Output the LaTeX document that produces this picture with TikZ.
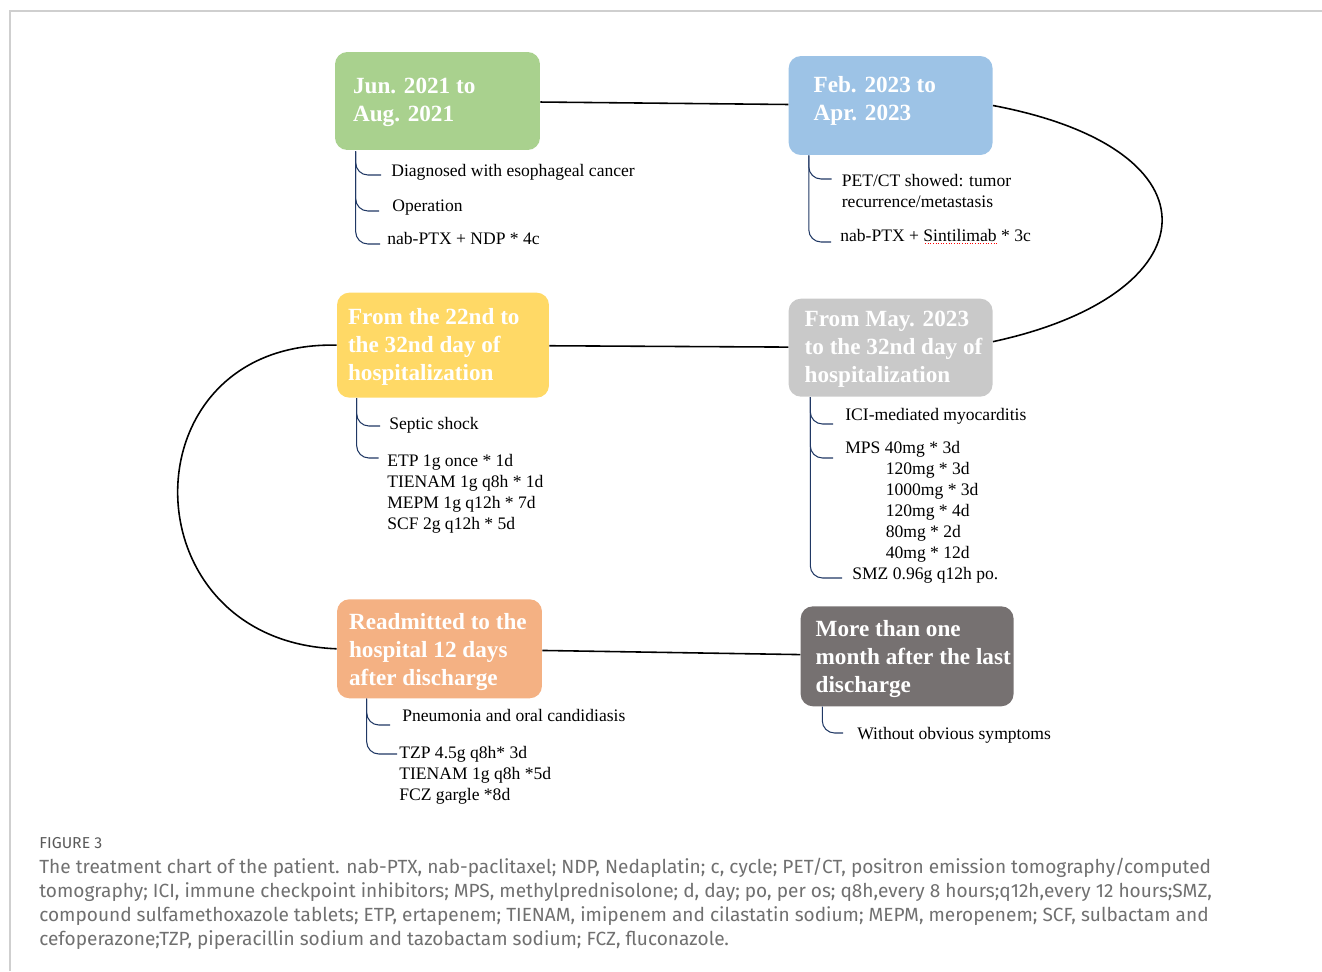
\documentclass[tikz,border=0pt]{standalone}
\usepackage{fontspec}
\setmainfont{Liberation Serif}
\newfontfamily\capfont{Fira Sans}
\usepackage{tikz}
\usetikzlibrary{positioning, calc}

\definecolor{boxgreen}{HTML}{A9D18E}
\definecolor{boxblue}{HTML}{9DC3E6}
\definecolor{boxyellow}{HTML}{FFD966}
\definecolor{boxgray}{HTML}{C9C9C9}
\definecolor{boxsalmon}{HTML}{F4B183}
\definecolor{boxdark}{HTML}{767171}
\definecolor{bracenavy}{HTML}{203864}
\definecolor{capgray}{HTML}{707070}
\definecolor{figgray}{HTML}{5A5A5A}
\definecolor{framegray}{HTML}{CFCFCF}

\tikzset{
  period/.style={rounded corners=7pt, minimum width=4.1cm, minimum height=1.96cm, inner sep=0pt},
  title/.style={text=white, font=\fontsize{13.2}{15.9}\selectfont\bfseries, align=left, inner sep=0pt, anchor=west},
  item/.style={font=\fontsize{10}{11.9}\selectfont, align=left, inner sep=0pt, anchor=north west},
  link/.style={draw=black, line width=0.9pt},
  brace/.style={draw=bracenavy, line width=0.6pt, rounded corners=7pt}
}

\begin{document}
\begin{tikzpicture}[x=0.02cm, y=-0.02cm]
\useasboundingbox (0,0) rectangle (1322,971);
\draw[framegray, line width=0.6pt] (10,971) -- (10,11) -- (1322,11);

% periods
\node[period, fill=boxgreen] (jun21) at (437.5,101) {};
\node[period, fill=boxblue, minimum width=4.08cm, minimum height=1.98cm] (feb23) [right=4.96cm of jun21, yshift=-0.09cm] {};
\node[period, fill=boxyellow, minimum width=4.24cm, minimum height=2.1cm] (day22) [below=2.84cm of jun21, xshift=0.11cm] {};
\node[period, fill=boxgray, minimum width=4.08cm] (may23) [right=4.78cm of day22, yshift=-0.05cm] {};
\node[period, fill=boxsalmon, minimum height=1.98cm] (readmit) [below=4.02cm of day22, xshift=-0.07cm] {};
\node[period, fill=boxdark, minimum width=4.26cm, minimum height=2cm] (month) [right=5.16cm of readmit, yshift=-0.15cm] {};

\node[title, xshift=0.36cm, yshift=-0.02cm] (jun21-t) at (jun21.west) {Jun. 2021 to\\Aug. 2021};
\node[title, xshift=0.5cm, yshift=0.1cm] (feb23-t) at (feb23.west) {Feb. 2023 to\\Apr. 2023};
\node[title, xshift=0.22cm, yshift=-0.03cm] (day22-t) at (day22.west) {From the 22nd to\\the 32nd day of\\hospitalization};
\node[title, xshift=0.32cm, yshift=-0.04cm] (may23-t) at (may23.west) {From May. 2023\\to the 32nd day of\\hospitalization};
\node[title, xshift=0.24cm, yshift=-0.06cm] (readmit-t) at (readmit.west) {Readmitted to the\\hospital 12 days\\after discharge};
\node[title, xshift=0.3cm, yshift=-0.06cm] (month-t) at (month.west) {More than one\\month after the last\\discharge};

\draw[link] (jun21) -- (feb23);
\draw[link] (feb23.east) .. controls +(233,44) and +(218,-47) .. ($(may23.east)+(0,-6)$);
\draw[link] (may23) -- (day22);
\draw[link] (day22.west) .. controls +(-212,-5) and +(-212,-8) .. (readmit.west);
\draw[link] (readmit) -- (month);

% events and treatments
\node[item] (diag) at (391,164) {Diagnosed with esophageal cancer};
\node[item] (oper) at (392,200) {Operation};
\node[item] (chemo1) at (387,232) {nab-PTX + NDP * 4c};
\node[item] (pet) at (841.5,174) {PET/CT showed: tumor\\recurrence/metastasis};
\node[item] (chemo2) at (840,229) {nab-PTX + Sintilimab * 3c};
\node[item] (septic) at (389,417) {Septic shock};
\node[item] (abx1) at (387,454) {ETP 1g once * 1d\\TIENAM 1g q8h * 1d\\MEPM 1g q12h * 7d\\SCF 2g q12h * 5d};
\node[item] (ici) at (845,408) {ICI-mediated myocarditis};
\node[item] (mps) at (845,441) {MPS 40mg * 3d\\\hspace*{23pt}120mg * 3d\\\hspace*{23pt}1000mg * 3d\\\hspace*{23pt}120mg * 4d\\\hspace*{23pt}80mg * 2d\\\hspace*{23pt}40mg * 12d};
\node[item] (smz) at (852,567) {SMZ 0.96g q12h po.};
\node[item] (pneu) at (402,709) {Pneumonia and oral candidiasis};
\node[item] (abx2) at (399,746) {TZP 4.5g q8h* 3d\\TIENAM 1g q8h *5d\\FCZ gargle *8d};
\node[item] (nosym) at (857,727) {Without obvious symptoms};
\draw[red, densely dotted, line width=0.5pt] ($(chemo2.north west)+(85,14.5)$) -- ++(73,0);

\coordinate (jun21-b) at ($(jun21.south west)+(21,1)$);
\coordinate (feb23-b) at ($(feb23.south west)+(20.5,0)$);
\coordinate (day22-b) at ($(day22.south west)+(20,0)$);
\coordinate (may23-b) at ($(may23.south west)+(22,0)$);
\coordinate (readmit-b) at ($(readmit.south west)+(30,0)$);
\coordinate (month-b) at ($(month.south west)+(22,0)$);

\draw[brace] (jun21-b) |- ($(diag.north west)+(-10,11)$);
\draw[brace] (jun21-b) |- ($(oper.north west)+(-13,11)$);
\draw[brace] (jun21-b) |- ($(chemo1.north west)+(-7,12)$);
\draw[brace] (feb23-b) |- ($(pet.north west)+(-10,5)$);
\draw[brace] (feb23-b) |- ($(chemo2.north west)+(-9,13)$);
\draw[brace] (day22-b) |- ($(septic.north west)+(-9,9)$);
\draw[brace] (day22-b) |- ($(abx1.north west)+(-8.5,4)$);
\draw[brace] (may23-b) |- ($(ici.north west)+(-12,16)$);
\draw[brace] (may23-b) |- ($(mps.north west)+(-12,17)$);
\draw[brace] (may23-b) |- ($(smz.north west)+(-10,11)$);
\draw[brace] (readmit-b) |- ($(pneu.north west)+(-12,16)$);
\draw[brace] (readmit-b) |- ($(abx2.north west)+(-2,8)$);
\draw[brace] (month-b) |- ($(nosym.north west)+(-14,6)$);

% caption
\node[anchor=base west, inner sep=0pt, font=\capfont\fontsize{9}{10}\selectfont, text=figgray] (figlabel) at (39,848) {FIGURE 3};
\node[anchor=north west, inner sep=0pt, align=left, font=\capfont\fontsize{10.85}{13.6}\selectfont, text=capgray] (caption) at (39,858) {The treatment chart of the patient. nab-PTX, nab-paclitaxel; NDP, Nedaplatin; c, cycle; PET/CT, positron emission tomography/computed\\tomography; ICI, immune checkpoint inhibitors; MPS, methylprednisolone; d, day; po, per os; q8h,every 8 hours;q12h,every 12 hours;SMZ,\\compound sulfamethoxazole tablets; ETP, ertapenem; TIENAM, imipenem and cilastatin sodium; MEPM, meropenem; SCF, sulbactam and\\cefoperazone;TZP, piperacillin sodium and tazobactam sodium; FCZ, fluconazole.};
\end{tikzpicture}
\end{document}
